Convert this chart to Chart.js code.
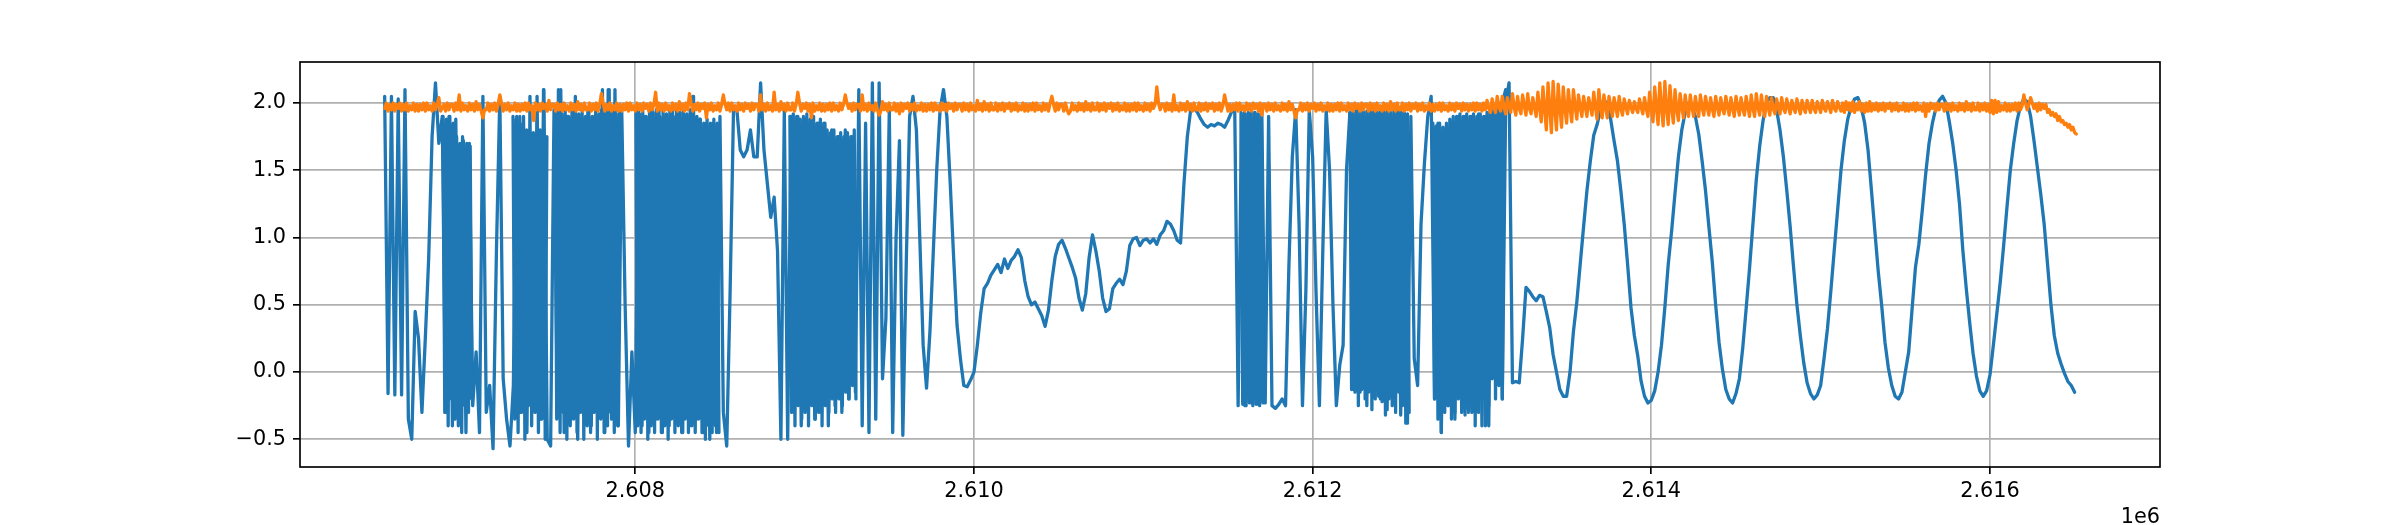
<!DOCTYPE html>
<html>
<head>
<meta charset="utf-8">
<script src="https://cdn.jsdelivr.net/npm/chart.js@4.4.1/dist/chart.umd.min.js"></script>
<style>
    html, body { margin: 0; padding: 0; background: #ffffff; }
    canvas { display: block; }
</style>
</head>
<body>
<canvas id="signalChart" width="2400" height="525" style="width:2400px;height:525px"></canvas>
<script>
// ===== DATA =====
// blue trace, evenly spaced samples
const blueStart = 2606520;
const blueStep = 20;
const blueY = [
    2.05, -0.16, 2.05, -0.17, 2.03, -0.17, 2.1, -0.35, -0.5, 0.45,
    0.25, -0.3, 0.25, 0.85, 1.75, 2.15, 1.7, 1.9, -0.3, 1.9,
    -0.4, 1.88, -0.2, 1.75, -0.45, 1.7, -0.25, 0.15, -0.45, 2.05,
    -0.3, -0.1, -0.57, 0.9, 2.05, -0.05, -0.35, -0.55, -0.1, 1.9,
    -0.3, 1.9, -0.45, 1.75, -0.2, 2.05, -0.35, 2.1, -0.5, -0.55,
    1.95, -0.3, 2.1, -0.45, 1.9, -0.35, 1.95, -0.5, 1.85, -0.3,
    1.95, -0.4, 1.9, -0.25, 1.95, -0.45, 2.1, -0.35, 2.1, -0.4,
    1.95, 0.5, -0.55, 0.15, -0.45, 1.95, -0.4, 1.9, -0.45, 1.95,
    -0.35, 1.95, -0.45, 1.9, -0.4, 1.95, -0.35, 1.92, -0.45, 1.9,
    -0.4, 2.05, -0.35, 1.88, -0.45, 1.85, -0.5, 1.85, -0.45, 1.9,
    -0.3, -0.55, 0.6, 1.95, 1.95, 1.65, 1.6, 1.65, 1.8, 1.6,
    1.6, 2.15, 1.65, 1.4, 1.15, 1.3, 0.9, -0.5, 1.95, -0.5,
    1.9, -0.3, 1.9, -0.4, 1.88, -0.25, 1.9, -0.35, 1.85, -0.3,
    1.85, -0.4, 1.8, -0.25, 1.75, -0.3, 1.8, -0.2, 1.75, -0.15,
    2.1, -0.4, 1.85, -0.45, 2.15, -0.35, 2.15, -0.05, 0.4, 1.95,
    -0.45, 1.0, 1.72, -0.47, 0.8, 1.9, 2.05, 1.8, 1.0, 0.2,
    -0.12, 0.3, 0.9, 1.5, 1.95, 2.1, 1.9, 1.4, 0.85, 0.35,
    0.1, -0.1, -0.11, -0.06, 0.0, 0.2, 0.44, 0.62, 0.66, 0.72,
    0.76, 0.8, 0.74, 0.84, 0.77, 0.83, 0.86, 0.91, 0.85, 0.68,
    0.56, 0.5, 0.52, 0.47, 0.42, 0.34, 0.46, 0.68, 0.86, 0.95,
    0.98, 0.92, 0.85, 0.78, 0.7, 0.55, 0.46, 0.58, 0.85, 1.02,
    0.9, 0.75, 0.55, 0.45, 0.47, 0.62, 0.66, 0.69, 0.65, 0.75,
    0.94, 0.99, 1.0, 0.94, 0.98, 0.99, 0.96, 0.99, 0.95, 1.02,
    1.05, 1.12, 1.1, 1.05, 0.98, 0.96, 1.4, 1.75, 1.95, 1.96,
    1.93, 1.88, 1.84, 1.82, 1.84, 1.83, 1.85, 1.84, 1.82, 1.87,
    1.93, 1.96, -0.25, 1.9, -0.25, 1.93, -0.23, 1.93, -0.24, 1.93,
    -0.23, 1.9, -0.25, -0.27, -0.24, -0.2, -0.25, 0.8, 1.6, 1.95,
    1.1, -0.25, 0.6, 1.95, 1.6, 0.6, -0.25, 0.9, 1.95, 1.5,
    0.5, -0.25, 0.05, 0.2, 1.5, 1.93, -0.13, 1.95, -0.15, 1.93,
    -0.25, 1.95, -0.13, 1.93, -0.2, 1.95, -0.28, 1.92, -0.18, 1.95,
    -0.32, 1.93, -0.38, 1.9, 0.1, -0.1, 1.1, 1.55, 1.9, 2.05,
    -0.2, 1.85, -0.45, 1.8, -0.25, 1.85, -0.35, 1.9, -0.2, 1.9,
    -0.3, 1.9, -0.28, 1.92, -0.4, 1.9, -0.4, 1.92, -0.05, 1.97,
    -0.2, 2.0, 2.15, -0.08, -0.07, -0.08, 0.25, 0.63, 0.6, 0.56,
    0.53, 0.57, 0.56, 0.45, 0.33, 0.13, 0.0, -0.13, -0.18, -0.18,
    0.0, 0.3, 0.52, 0.8, 1.08, 1.35, 1.57, 1.76, 1.84, 1.95,
    2.03, 1.98, 1.88, 1.72, 1.57, 1.35, 1.1, 0.8, 0.48, 0.27,
    0.12, -0.07, -0.18, -0.23, -0.21, -0.14, 0.0, 0.2, 0.48, 0.8,
    1.05, 1.33, 1.6, 1.8, 1.93, 2.0, 1.98, 1.9, 1.77, 1.57,
    1.35, 1.08, 0.82, 0.5, 0.22, 0.02, -0.13, -0.2, -0.23, -0.16,
    -0.05, 0.18, 0.47, 0.77, 1.1, 1.43, 1.68, 1.87, 2.0, 2.04,
    2.04, 1.95, 1.8, 1.6, 1.35, 1.08, 0.78, 0.5, 0.27, 0.07,
    -0.08, -0.16, -0.2, -0.17, -0.1, 0.1, 0.32, 0.6, 0.9, 1.2,
    1.5, 1.72, 1.88, 1.97, 2.03, 2.04, 1.97, 1.85, 1.65, 1.35,
    1.05, 0.75, 0.5, 0.22, 0.03, -0.1, -0.18, -0.2, -0.15, 0.0,
    0.15, 0.47, 0.78, 0.95, 1.2, 1.47, 1.7, 1.85, 1.96, 2.02,
    2.05, 2.0, 1.86, 1.7, 1.5, 1.25, 0.9, 0.62, 0.37, 0.14,
    -0.03, -0.14, -0.18, -0.14, -0.02, 0.2, 0.43, 0.66, 0.93, 1.22,
    1.5, 1.7, 1.87, 1.98, 2.03, 2.01, 1.9, 1.72, 1.52, 1.32,
    1.1, 0.8, 0.5, 0.27, 0.14, 0.06, -0.01, -0.07, -0.1, -0.15
];

// fast switching bursts of the blue trace, sampled finer
const burstStep = 10;
const burstStarts = [2606865, 2607278, 2607526, 2608004, 2608913, 2611577, 2612220, 2612710];
const burstY = [
    [1.9, -0.3, 1.88, -0.4, 1.9, -0.2, 1.85, -0.35, 1.75, -0.4, 1.7, -0.45, 1.72, -0.25, 1.7, -0.3, 1.68, -0.2],
    [1.9, -0.35, 1.88, -0.45, 1.9, -0.3, 1.85, -0.5, 1.8, -0.25, 2.05, -0.4, 1.78, -0.3, 1.75, -0.45, 1.8, -0.35, 2.1, -0.5, 1.75],
    [1.95, -0.35, 2.1, -0.45, 1.92, -0.3, 1.95, -0.5, 1.9, -0.4, 1.95, -0.35, 2.05, -0.45, 1.92, -0.3, 1.95, -0.5, 1.9, -0.4,
     1.95, -0.45, 1.9, -0.3, 1.95, -0.5, 1.92, -0.35, 2.1, -0.45, 1.95, -0.4, 2.1, -0.3, 1.95, -0.45, 1.92, -0.4, 1.95],
    [1.95, -0.4, 1.92, -0.45, 1.95, -0.35, 1.9, -0.5, 1.95, -0.4, 1.93, -0.45, 1.95, -0.35, 1.9, -0.45, 1.95, -0.4, 1.92, -0.5,
     1.95, -0.35, 1.9, -0.45, 1.95, -0.4, 1.93, -0.45, 1.95, -0.35, 1.92, -0.45, 1.95, -0.4, 2.05, -0.45, 1.9, -0.35, 1.88, -0.45,
     1.85, -0.5, 1.88, -0.4, 1.85, -0.45, 1.88, -0.4, 1.85, -0.45],
    [1.9, -0.3, 1.92, -0.4, 1.9, -0.25, 1.88, -0.35, 1.9, -0.3, 1.92, -0.4, 1.88, -0.25, 1.9, -0.35, 1.85, -0.3, 1.88, -0.4,
     1.85, -0.25, 1.8, -0.3, 1.78, -0.2, 1.8, -0.3, 1.75, -0.2, 1.78, -0.25, 1.75, -0.15, 1.78, -0.2, 1.75, -0.1, 1.8, -0.2],
    [1.93, -0.24, 1.93, -0.25, 1.92, -0.23, 1.93, -0.25, 1.93, -0.24, 1.92, -0.25, 1.93, -0.23],
    [1.93, -0.13, 1.95, -0.15, 1.93, -0.25, 1.95, -0.13, 1.93, -0.2, 1.94, -0.15, 1.93, -0.28, 1.95, -0.2, 1.93, -0.18, 1.95, -0.22,
     1.93, -0.32, 1.94, -0.2, 1.93, -0.25, 1.95, -0.3, 1.93, -0.15, 1.94, -0.25, 1.93, -0.38, 1.92, -0.3],
    [1.85, -0.2, 1.83, -0.35, 1.85, -0.45, 1.82, -0.3, 1.85, -0.25, 1.88, -0.35, 1.9, -0.3, 1.9, -0.2, 1.92, -0.3, 1.9, -0.32,
     1.92, -0.28, 1.9, -0.3, 1.92, -0.4, 1.9, -0.3, 1.92, -0.2, 1.9, -0.4, 1.93, -0.25, 1.95, -0.05, 1.97, -0.2, 1.95, -0.1,
     2.0, -0.2, 2.05, 2.1]
];

// orange trace, evenly spaced samples
const orangeStart = 2606520;
const orangeStep = 10;
const orangeY = [
    1.96, 2.0, 1.94, 1.99, 1.95, 2.0, 1.94, 1.99, 1.96, 2.0, 1.94, 1.99, 1.95, 2.0, 1.94, 1.98, 1.95, 2.0, 1.94, 1.99,
    1.94, 1.99, 1.95, 2.0, 1.94, 2.0, 1.95, 1.98, 1.94, 2.0, 1.95, 1.99, 2.04, 1.94, 1.96, 1.99, 1.94, 2.0, 1.95, 1.99,
    1.99, 1.94, 2.0, 1.95, 2.06, 1.94, 2.0, 1.95, 1.98, 1.94, 2.0, 1.95, 1.99, 1.94, 2.01, 1.95, 1.99, 1.94, 1.89, 1.95,
    1.95, 2.0, 1.94, 1.99, 1.95, 2.0, 1.94, 1.99, 2.06, 2.0, 1.94, 1.99, 1.95, 2.0, 1.94, 1.98, 1.95, 2.0, 1.94, 1.99,
    1.94, 1.99, 1.95, 2.0, 1.94, 2.0, 1.95, 1.98, 1.87, 2.0, 1.95, 1.99, 1.94, 2.0, 1.96, 1.99, 1.94, 2.02, 1.95, 1.99,
    1.99, 1.94, 2.0, 1.95, 1.99, 1.94, 2.0, 1.95, 1.98, 1.94, 2.0, 1.95, 1.99, 1.94, 2.01, 1.95, 1.99, 1.94, 2.0, 1.95,
    1.95, 2.0, 1.94, 1.99, 1.95, 2.0, 1.94, 1.99, 2.07, 2.0, 1.94, 1.99, 1.95, 2.0, 1.94, 1.98, 1.95, 2.0, 1.94, 1.99,
    1.94, 1.99, 1.95, 2.0, 1.94, 2.0, 1.95, 1.98, 1.94, 2.0, 1.95, 1.99, 1.94, 2.0, 1.96, 1.99, 1.94, 2.0, 1.95, 1.99,
    2.08, 1.94, 2.0, 1.95, 1.99, 1.94, 2.0, 1.95, 1.98, 1.94, 2.0, 1.95, 1.99, 1.94, 2.01, 1.95, 1.99, 1.94, 2.0, 1.95,
    2.07, 2.0, 1.94, 1.99, 1.95, 2.0, 1.94, 1.99, 1.96, 2.0, 1.89, 1.99, 1.95, 2.0, 1.94, 1.98, 1.95, 2.0, 1.94, 1.99,
    2.06, 1.99, 1.95, 2.0, 1.94, 2.0, 1.95, 1.98, 1.94, 2.0, 1.95, 1.99, 1.94, 2.0, 1.96, 1.99, 1.94, 2.0, 1.95, 1.99,
    1.99, 1.94, 2.06, 1.95, 1.99, 1.94, 2.0, 1.95, 1.98, 1.94, 2.08, 1.95, 1.99, 1.94, 2.01, 1.95, 1.99, 1.94, 2.0, 1.95,
    1.95, 2.0, 1.94, 1.99, 2.08, 2.0, 1.94, 1.99, 1.96, 2.0, 1.94, 1.99, 1.89, 2.0, 1.94, 1.98, 1.95, 2.0, 1.94, 1.99,
    1.94, 1.99, 1.95, 2.0, 1.94, 2.0, 1.95, 1.98, 1.94, 2.0, 1.95, 1.99, 2.06, 2.0, 1.96, 1.99, 1.94, 2.0, 1.95, 1.99,
    1.99, 1.94, 2.06, 1.95, 1.99, 1.94, 2.0, 1.95, 1.98, 1.94, 2.0, 1.95, 1.91, 1.94, 2.01, 1.95, 1.99, 1.94, 2.0, 1.95,
    1.95, 2.0, 1.94, 1.99, 1.92, 2.0, 1.94, 1.99, 1.96, 2.0, 1.94, 1.99, 1.95, 2.0, 1.94, 1.98, 1.95, 2.0, 1.94, 1.99,
    1.94, 1.99, 1.95, 2.0, 1.94, 2.0, 1.95, 1.98, 1.94, 2.0, 1.95, 1.99, 1.94, 2.0, 1.96, 1.99, 1.94, 2.0, 1.95, 1.99,
    1.99, 1.94, 2.0, 1.95, 1.99, 1.94, 2.0, 1.95, 1.98, 1.94, 2.02, 1.95, 1.99, 1.94, 2.01, 1.95, 1.99, 1.94, 2.0, 1.95,
    1.95, 2.0, 1.94, 1.99, 1.95, 2.0, 1.94, 1.99, 1.96, 2.0, 1.94, 1.99, 1.95, 2.0, 1.94, 1.98, 1.95, 2.0, 1.94, 1.99,
    1.94, 1.99, 1.95, 2.0, 1.94, 2.0, 1.95, 1.98, 1.94, 2.0, 1.95, 1.99, 1.94, 2.0, 2.05, 1.99, 1.94, 2.0, 1.95, 1.99,
    1.99, 1.94, 2.0, 1.95, 1.92, 1.94, 2.0, 1.95, 1.98, 1.94, 2.0, 1.95, 1.99, 1.94, 2.01, 1.95, 1.99, 1.94, 2.0, 1.95,
    1.95, 2.0, 1.94, 1.99, 1.95, 2.0, 1.94, 1.99, 1.96, 2.0, 1.94, 1.99, 1.95, 2.0, 1.94, 1.98, 1.95, 2.0, 1.94, 1.99,
    1.94, 1.99, 1.95, 2.0, 1.94, 2.0, 1.95, 1.98, 1.94, 2.0, 1.95, 1.99, 1.94, 2.0, 1.96, 1.99, 2.12, 2.0, 1.95, 1.99,
    1.99, 1.94, 2.0, 1.95, 1.99, 1.94, 2.06, 1.95, 1.98, 1.94, 2.0, 1.95, 1.99, 1.94, 2.01, 1.95, 1.99, 1.94, 2.0, 1.95,
    1.95, 2.0, 1.94, 1.99, 1.95, 2.0, 1.94, 1.99, 1.96, 2.0, 1.94, 1.99, 1.95, 2.0, 1.94, 1.98, 2.06, 2.0, 1.94, 1.99,
    1.94, 1.99, 1.95, 2.0, 1.94, 2.0, 1.95, 1.98, 1.94, 2.0, 1.95, 1.99, 1.94, 2.0, 1.96, 1.99, 1.94, 2.0, 1.91, 1.99,
    1.99, 1.94, 2.0, 1.95, 1.99, 1.94, 2.0, 1.95, 1.98, 1.94, 2.0, 1.95, 1.99, 1.94, 2.01, 1.95, 1.99, 1.94, 1.89, 1.95,
    1.95, 2.0, 1.94, 1.99, 1.95, 2.0, 1.94, 1.99, 1.96, 2.0, 1.94, 1.99, 1.95, 2.0, 1.94, 1.98, 1.95, 2.0, 1.94, 1.99,
    1.94, 1.99, 1.95, 2.0, 1.94, 2.0, 1.95, 1.98, 1.94, 2.0, 1.95, 1.99, 1.94, 2.0, 1.96, 1.99, 1.94, 2.0, 1.95, 1.99,
    1.99, 1.94, 2.0, 1.95, 1.99, 1.94, 2.0, 1.95, 1.98, 1.94, 2.0, 1.95, 1.99, 1.94, 2.01, 1.95, 1.99, 1.94, 2.0, 1.95,
    1.95, 2.0, 1.94, 1.99, 1.95, 2.0, 1.94, 1.99, 1.96, 2.0, 1.94, 1.99, 1.95, 2.0, 1.94, 1.98, 1.95, 2.0, 1.94, 1.99,
    1.94, 1.99, 1.95, 2.0, 1.94, 2.0, 1.95, 1.98, 1.94, 2.0, 1.95, 1.99, 1.94, 2.0, 1.96, 1.99, 1.94, 2.0, 1.95, 1.99,
    1.94, 1.99, 1.95, 2.0, 1.94, 2.0, 1.95, 1.99, 1.94, 2.0, 1.95, 2.02, 1.96, 1.93, 2.03, 1.97, 1.93, 2.05, 1.97, 1.94,
    2.05, 1.97, 1.92, 2.04, 1.98, 1.93, 2.07, 1.97, 1.91, 2.05, 1.96, 1.92, 2.06, 1.98, 1.91, 2.07, 1.96, 1.92, 2.04, 1.97,
    1.9, 2.08, 1.97, 1.86, 2.12, 1.96, 1.8, 2.15, 1.97, 1.78, 2.16, 1.96, 1.8, 2.14, 1.97, 1.82, 2.12, 1.96, 1.85, 2.1,
    1.97, 1.86, 2.1, 1.98, 1.88, 2.06, 1.97, 1.9, 2.05, 1.97, 1.9, 2.04, 1.98, 1.91, 2.08, 1.97, 1.88, 2.1, 1.97, 1.89,
    2.06, 1.97, 1.89, 2.05, 1.98, 1.9, 2.04, 1.97, 1.9, 2.05, 1.96, 1.91, 2.03, 1.97, 1.92, 2.02, 1.97, 1.93, 2.01, 1.96,
    1.93, 2.03, 1.97, 1.92, 2.04, 1.96, 1.9, 2.08, 1.96, 1.86, 2.12, 1.97, 1.84, 2.15, 1.97, 1.83, 2.16, 1.96, 1.84, 2.13,
    1.97, 1.85, 2.1, 1.96, 1.87, 2.07, 1.97, 1.89, 2.06, 1.96, 1.9, 2.06, 1.97, 1.9, 2.05, 1.96, 1.9, 2.06, 1.97, 1.91,
    2.05, 1.97, 1.91, 2.04, 1.96, 1.9, 2.05, 1.97, 1.91, 2.04, 1.96, 1.92, 2.05, 1.97, 1.91, 2.04, 1.96, 1.9, 2.05, 1.97,
    1.91, 2.04, 1.96, 1.91, 2.05, 1.97, 1.9, 2.06, 1.96, 1.9, 2.07, 1.97, 1.91, 2.06, 1.96, 1.9, 2.05, 1.97, 1.91, 2.04,
    1.96, 1.92, 2.03, 1.97, 1.92, 2.04, 1.96, 1.93, 2.03, 1.97, 1.92, 2.02, 1.96, 1.93, 2.03, 1.97, 1.92, 2.02, 1.96, 1.93,
    2.02, 1.97, 1.93, 2.02, 1.96, 1.93, 2.01, 1.97, 1.93, 2.02, 1.96, 1.94, 2.01, 1.97, 1.93, 2.02, 1.96, 1.94, 2.01, 1.97,
    1.94, 2.0, 1.93, 2.01, 1.95, 2.0, 1.94, 2.01, 1.93, 1.99, 1.95, 2.01, 1.94, 1.99, 1.93, 2.0, 1.94, 2.01, 1.94, 1.99,
    1.95, 2.0, 1.94, 1.99, 1.95, 2.0, 1.94, 1.99, 1.96, 2.0, 1.94, 1.99, 1.95, 2.0, 1.94, 1.98, 1.95, 2.0, 1.94, 1.99,
    1.94, 1.99, 1.95, 2.0, 1.94, 2.0, 1.95, 1.98, 1.94, 2.0, 1.9, 1.99, 1.94, 2.0, 1.96, 1.99, 1.94, 2.0, 1.95, 1.99,
    1.99, 1.94, 2.0, 1.95, 1.99, 1.94, 2.0, 1.95, 1.98, 1.94, 2.0, 1.95, 1.99, 1.94, 2.01, 1.95, 1.99, 1.94, 2.0, 1.95,
    1.95, 2.0, 1.94, 1.99, 1.95, 2.0, 1.94, 1.99, 1.93, 2.02, 1.92, 2.02, 1.93, 2.01, 1.94, 1.98, 1.95, 2.0, 1.94, 1.99,
    1.94, 1.99, 1.95, 2.0, 1.94, 2.0, 1.95, 1.98, 2.06, 2.0, 1.95, 1.99, 2.04, 2.0, 1.96, 1.99, 1.94, 2.0, 1.95, 1.99,
    1.96, 1.99, 1.93, 1.95, 1.91, 1.93, 1.9, 1.92, 1.87, 1.9, 1.86, 1.87, 1.84, 1.85, 1.82, 1.84, 1.8, 1.82, 1.78, 1.77
];

const xTicks = [2608000, 2610000, 2612000, 2614000, 2616000];
const yTicks = [-0.5, 0.0, 0.5, 1.0, 1.5, 2.0];
const xOffsetLabel = '1e6';

// ===== STYLE =====
const BLUE = '#1f77b4';
const ORANGE = '#ff7f0e';
const FONT = { family: 'DejaVu Sans', size: 20.8 };
const LW = 1.67; // 0.8pt at 150 dpi

const toPoints = (x0, step, ys) => ys.map((y, i) => ({ x: x0 + i * step, y: y }));

function lineSet(points, color, order) {
    return {
        data: points,
        borderColor: color,
        borderWidth: 3.3,
        borderJoinStyle: 'round',
        borderCapStyle: 'round',
        pointRadius: 0,
        tension: 0,
        order: order
    };
}

// frame on all four sides + the offset text under the x axis
const framePlugin = {
    id: 'frame',
    afterDatasetsDraw(chart) {
        const { ctx, chartArea: a } = chart;
        ctx.save();
        ctx.strokeStyle = '#000';
        ctx.lineWidth = LW;
        ctx.strokeRect(a.left, a.top, a.right - a.left, a.bottom - a.top);
        ctx.fillStyle = '#000';
        ctx.font = FONT.size + 'px "' + FONT.family + '"';
        ctx.textAlign = 'right';
        ctx.textBaseline = 'alphabetic';
        ctx.fillText(xOffsetLabel, a.right, 523);
        ctx.restore();
    }
};

document.addEventListener('DOMContentLoaded', function() {
    const ctx = document.getElementById('signalChart');

    const datasets = [lineSet(toPoints(blueStart, blueStep, blueY), BLUE, 3)];
    burstY.forEach((ys, k) => {
        datasets.push(lineSet(toPoints(burstStarts[k], burstStep, ys), BLUE, 2));
    });
    datasets.push(lineSet(toPoints(orangeStart, orangeStep, orangeY), ORANGE, 1));

    new Chart(ctx, {
        type: 'line',
        data: { datasets: datasets },
        options: {
            responsive: false,
            animation: false,
            devicePixelRatio: 1,
            layout: {
                autoPadding: false,
                padding: { left: 0, right: 240, top: 62, bottom: 0 }
            },
            plugins: {
                legend: { display: false },
                tooltip: { enabled: false }
            },
            scales: {
                x: {
                    type: 'linear',
                    min: 2606020,
                    max: 2617004,
                    afterBuildTicks: s => { s.ticks = xTicks.map(v => ({ value: v })); },
                    afterFit: s => { s.height = 58; },
                    border: { display: false },
                    grid: {
                        color: '#b0b0b0',
                        lineWidth: LW,
                        tickColor: '#000',
                        tickWidth: LW,
                        tickLength: 7
                    },
                    ticks: {
                        color: '#000',
                        font: FONT,
                        padding: 5,
                        maxRotation: 0,
                        autoSkip: false,
                        callback: v => (v / 1e6).toFixed(3)
                    }
                },
                y: {
                    type: 'linear',
                    min: -0.706,
                    max: 2.305,
                    afterBuildTicks: s => { s.ticks = yTicks.map(v => ({ value: v })); },
                    afterFit: s => { s.width = 300; },
                    border: { display: false },
                    grid: {
                        color: '#b0b0b0',
                        lineWidth: LW,
                        tickColor: '#000',
                        tickWidth: LW,
                        tickLength: 7
                    },
                    ticks: {
                        color: '#000',
                        font: FONT,
                        padding: 7,
                        autoSkip: false,
                        callback: v => v.toFixed(1).replace('-', '\u2212')
                    }
                }
            }
        },
        plugins: [framePlugin]
    });
});
</script>
</body>
</html>
